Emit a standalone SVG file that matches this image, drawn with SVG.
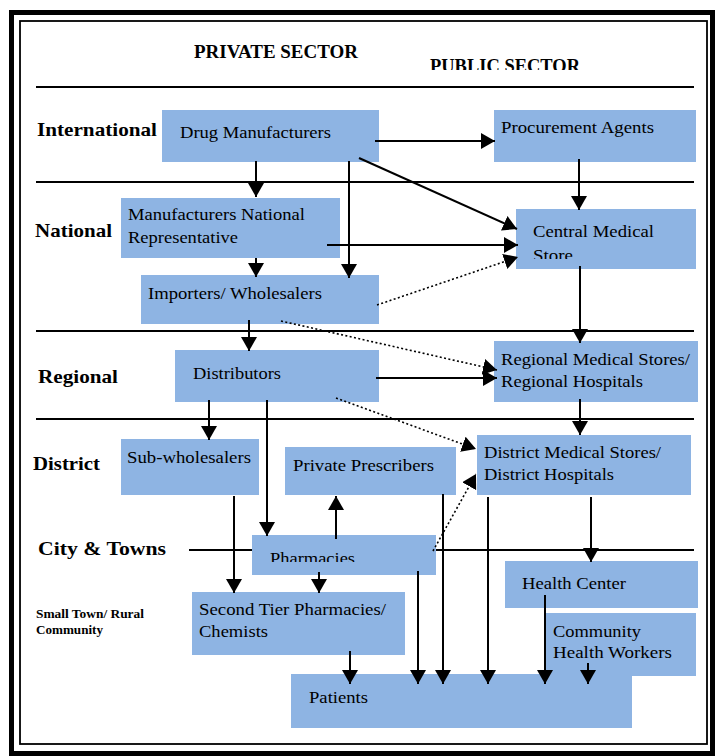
<svg xmlns="http://www.w3.org/2000/svg" width="715" height="756" viewBox="0 0 715 756">
<style>
.box{fill:#8EB4E3;}
.t{font-family:"Liberation Serif","Times New Roman",serif;font-size:17.5px;fill:#000;}
.lv{font-family:"Liberation Serif","Times New Roman",serif;font-size:19px;font-weight:bold;fill:#000;}
.sm{font-family:"Liberation Serif","Times New Roman",serif;font-size:11.5px;font-weight:bold;fill:#000;}
.sep{stroke:#000;stroke-width:2;fill:none;}
.c{stroke:#000;stroke-width:2;fill:none;marker-end:url(#ah);}
.d{stroke:#000;stroke-width:1.6;stroke-dasharray:2 2.4;fill:none;marker-end:url(#ah);}
</style>
<defs>
<marker id="ah" markerUnits="userSpaceOnUse" markerWidth="16" markerHeight="17" refX="14" refY="8" orient="auto">
<path d="M0,0 L14,8 L0,16 Z" fill="#000"/>
</marker>
<clipPath id="clipPub"><rect x="400" y="40" width="220" height="30"/></clipPath>
<clipPath id="clipStore"><rect x="520" y="240" width="120" height="19"/></clipPath>
<clipPath id="clipPharm"><rect x="260" y="540" width="120" height="22"/></clipPath>
</defs>
<rect width="715" height="756" fill="#fff"/>
<g id="frame">
<rect x="11.5" y="12.5" width="701" height="741" fill="none" stroke="#000" stroke-width="5"/>
<rect x="20" y="21" width="687" height="723" fill="none" stroke="#000" stroke-width="1.8"/>
</g>
<g id="headers">
<text class="lv" x="194" y="58" textLength="164" lengthAdjust="spacingAndGlyphs">PRIVATE SECTOR</text>
<text class="lv" x="430" y="72" textLength="150" lengthAdjust="spacingAndGlyphs" clip-path="url(#clipPub)">PUBLIC SECTOR</text>
</g>
<g id="separators">
<line class="sep" x1="36" y1="87" x2="694" y2="87"/>
<line class="sep" x1="36" y1="182" x2="694" y2="182"/>
<line class="sep" x1="36" y1="331" x2="694" y2="331"/>
<line class="sep" x1="36" y1="419" x2="694" y2="419"/>
<line class="sep" x1="189" y1="550" x2="694" y2="550"/>
</g>
<g id="levels">
<text class="lv" x="37" y="136" textLength="120" lengthAdjust="spacingAndGlyphs">International</text>
<text class="lv" x="35" y="237" textLength="77" lengthAdjust="spacingAndGlyphs">National</text>
<text class="lv" x="38" y="383" textLength="80" lengthAdjust="spacingAndGlyphs">Regional</text>
<text class="lv" x="33" y="470" textLength="67" lengthAdjust="spacingAndGlyphs">District</text>
<text class="lv" x="38" y="555" textLength="128" lengthAdjust="spacingAndGlyphs">City &amp; Towns</text>
<text class="sm" x="36" y="618" textLength="108" lengthAdjust="spacingAndGlyphs">Small Town/ Rural</text>
<text class="sm" x="36" y="634" textLength="67" lengthAdjust="spacingAndGlyphs">Community</text>
</g>
<g id="drug-manufacturers">
<rect class="box" x="162" y="110" width="217" height="52"/>
<text class="t" x="180" y="138" textLength="151" lengthAdjust="spacingAndGlyphs">Drug Manufacturers</text>
</g>
<g id="procurement-agents">
<rect class="box" x="494" y="110" width="202" height="52"/>
<text class="t" x="501" y="133" textLength="153" lengthAdjust="spacingAndGlyphs">Procurement Agents</text>
</g>
<g id="manufacturers-national-rep">
<rect class="box" x="121" y="198" width="219" height="60"/>
<text class="t" x="128" y="220" textLength="177" lengthAdjust="spacingAndGlyphs">Manufacturers National</text>
<text class="t" x="128" y="243" textLength="110" lengthAdjust="spacingAndGlyphs">Representative</text>
</g>
<g id="central-medical-store">
<rect class="box" x="516" y="209" width="180" height="60"/>
<text class="t" x="533" y="237" textLength="121" lengthAdjust="spacingAndGlyphs">Central Medical</text>
<text class="t" x="533" y="261" textLength="40" lengthAdjust="spacingAndGlyphs" clip-path="url(#clipStore)">Store</text>
</g>
<g id="importers-wholesalers">
<rect class="box" x="141" y="275" width="238" height="49"/>
<text class="t" x="148" y="299" textLength="174" lengthAdjust="spacingAndGlyphs">Importers/ Wholesalers</text>
</g>
<g id="distributors">
<rect class="box" x="175" y="350" width="204" height="52"/>
<text class="t" x="193" y="379" textLength="88" lengthAdjust="spacingAndGlyphs">Distributors</text>
</g>
<g id="regional-medical-stores">
<rect class="box" x="494" y="341" width="204" height="61"/>
<text class="t" x="501" y="365" textLength="189" lengthAdjust="spacingAndGlyphs">Regional Medical Stores/</text>
<text class="t" x="501" y="387" textLength="142" lengthAdjust="spacingAndGlyphs">Regional Hospitals</text>
</g>
<g id="sub-wholesalers">
<rect class="box" x="121" y="439" width="138" height="56"/>
<text class="t" x="127" y="463" textLength="124" lengthAdjust="spacingAndGlyphs">Sub-wholesalers</text>
</g>
<g id="private-prescribers">
<rect class="box" x="285" y="447" width="171" height="48"/>
<text class="t" x="293" y="471" textLength="141" lengthAdjust="spacingAndGlyphs">Private Prescribers</text>
</g>
<g id="district-medical-stores">
<rect class="box" x="477" y="435" width="214" height="60"/>
<text class="t" x="484" y="458" textLength="177" lengthAdjust="spacingAndGlyphs">District Medical Stores/</text>
<text class="t" x="484" y="480" textLength="130" lengthAdjust="spacingAndGlyphs">District Hospitals</text>
</g>
<g id="pharmacies">
<rect class="box" x="252" y="535" width="184" height="40"/>
<text class="t" x="270" y="564" textLength="85" lengthAdjust="spacingAndGlyphs" clip-path="url(#clipPharm)">Pharmacies</text>
</g>
<g id="health-center">
<rect class="box" x="505" y="561" width="193" height="47"/>
<text class="t" x="522" y="589" textLength="104" lengthAdjust="spacingAndGlyphs">Health Center</text>
</g>
<g id="second-tier-pharmacies">
<rect class="box" x="192" y="592" width="213" height="63"/>
<text class="t" x="199" y="615" textLength="187" lengthAdjust="spacingAndGlyphs">Second Tier Pharmacies/</text>
<text class="t" x="199" y="637" textLength="69" lengthAdjust="spacingAndGlyphs">Chemists</text>
</g>
<g id="community-health-workers">
<rect class="box" x="546" y="613" width="150" height="63"/>
<text class="t" x="553" y="637" textLength="88" lengthAdjust="spacingAndGlyphs">Community</text>
<text class="t" x="553" y="658" textLength="119" lengthAdjust="spacingAndGlyphs">Health Workers</text>
</g>
<g id="patients">
<rect class="box" x="291" y="674" width="341" height="54"/>
<text class="t" x="309" y="703" textLength="59" lengthAdjust="spacingAndGlyphs">Patients</text>
</g>
<g id="connectors">
<line class="c" x1="375" y1="141" x2="495" y2="141"/>
<line class="c" x1="579" y1="159" x2="579" y2="210"/>
<line class="c" x1="256" y1="161" x2="256" y2="197"/>
<line class="c" x1="349" y1="161" x2="349" y2="278"/>
<line class="c" x1="359" y1="158" x2="517" y2="229"/>
<line class="c" x1="327" y1="245" x2="518" y2="245"/>
<line class="c" x1="256" y1="258" x2="256" y2="277"/>
<line class="d" x1="377" y1="305" x2="518" y2="257"/>
<line class="c" x1="580" y1="266" x2="580" y2="343"/>
<line class="c" x1="249" y1="320" x2="249" y2="351"/>
<line class="d" x1="281" y1="321" x2="497" y2="370"/>
<line class="c" x1="376" y1="378" x2="497" y2="378"/>
<line class="c" x1="580" y1="399" x2="580" y2="435"/>
<line class="c" x1="209" y1="400" x2="209" y2="440"/>
<line class="c" x1="267" y1="400" x2="267" y2="536"/>
<line class="d" x1="336" y1="398" x2="476" y2="449"/>
<line class="c" x1="336" y1="539" x2="336" y2="496"/>
<line class="d" x1="433" y1="551" x2="476" y2="474"/>
<line class="c" x1="443" y1="494" x2="443" y2="684"/>
<line class="c" x1="488" y1="497" x2="488" y2="684"/>
<line class="c" x1="591" y1="497" x2="591" y2="562"/>
<line class="c" x1="234" y1="496" x2="234" y2="593"/>
<line class="c" x1="319" y1="572" x2="319" y2="593"/>
<line class="c" x1="418" y1="571" x2="418" y2="684"/>
<line class="c" x1="350" y1="651" x2="350" y2="684"/>
<line class="c" x1="545" y1="595" x2="545" y2="684"/>
<line class="c" x1="588" y1="663" x2="588" y2="684"/>
</g>
</svg>
